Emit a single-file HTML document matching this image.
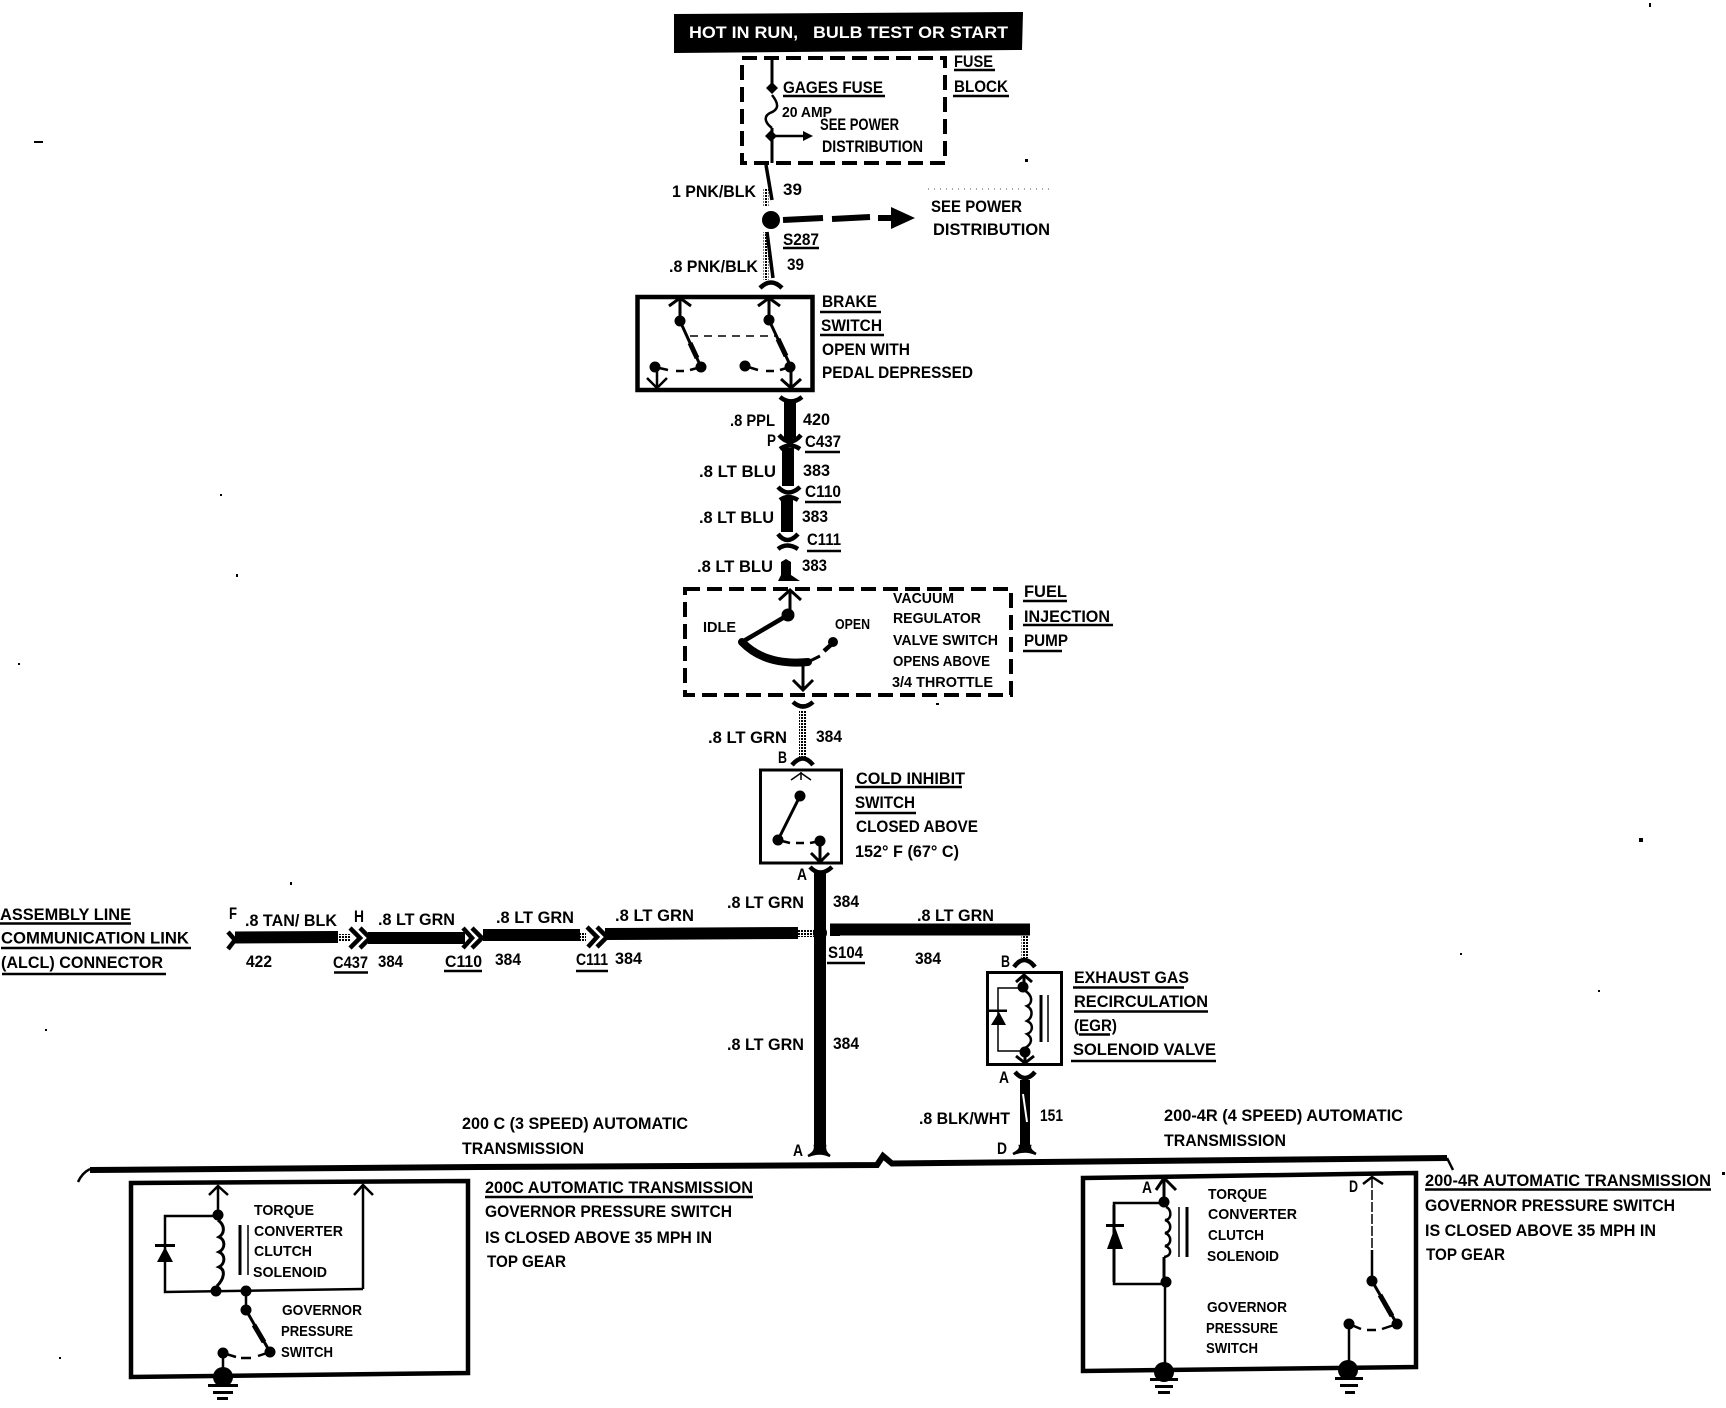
<!DOCTYPE html>
<html>
<head>
<meta charset="utf-8">
<style>
html,body{margin:0;padding:0;background:#fff}
svg{display:block}
text{font-family:"Liberation Sans",Arial,sans-serif;font-weight:bold;font-size:17px;fill:#000}
text.m{font-size:15px}
text.s{font-size:15px}
text.w{fill:#fff;font-size:17px}
.l{fill:none;stroke:#000;stroke-width:2.5}
.t{fill:none;stroke:#000;stroke-width:1.5}
.b{fill:none;stroke:#000;stroke-width:3}
.c{fill:none;stroke:#000;stroke-width:4.5}
.u{fill:none;stroke:#000;stroke-width:2.5}
.d{fill:none;stroke:#000;stroke-width:1.5;stroke-dasharray:8 6}
.dash{fill:none;stroke:#000;stroke-width:4;stroke-dasharray:15 7}
.w1{fill:none;stroke:#000;stroke-width:12}
.h{fill:none;stroke:#000;stroke-width:12}
.g{fill:none;stroke:url(#st);stroke-width:8}
</style>
</head>
<body>
<svg width="1726" height="1408" viewBox="0 0 1726 1408" xmlns="http://www.w3.org/2000/svg">
<defs>
<pattern id="st" width="3" height="3" patternUnits="userSpaceOnUse"><rect width="2" height="2" fill="#000"/></pattern>
</defs>
<rect width="1726" height="1408" fill="#fff"/>

<!-- specks -->
<g fill="#000">
<rect x="1649" y="3" width="2" height="4"/><rect x="34" y="141" width="9" height="2"/><rect x="1025" y="159" width="3" height="3"/>
<rect x="1639" y="838" width="4" height="4"/><rect x="290" y="882" width="2" height="3"/><rect x="936" y="703" width="3" height="2"/>
<rect x="220" y="494" width="2" height="2"/><rect x="236" y="574" width="2" height="3"/><rect x="45" y="1029" width="2" height="2"/>
<rect x="18" y="663" width="2" height="2"/><rect x="59" y="1357" width="2" height="2"/><rect x="1460" y="953" width="2" height="2"/>
<rect x="1598" y="990" width="2" height="2"/><rect x="1722" y="1172" width="3" height="3"/>
</g>
<path d="M928 189H1053" stroke="#888" stroke-width="1.5" stroke-dasharray="1 5" fill="none"/>

<!-- header -->
<path d="M674 14L1023 12L1022 50L674 53Z" fill="#000"/>
<text class="w" x="689" y="38" textLength="319" lengthAdjust="spacingAndGlyphs">HOT IN RUN,&#160;&#160;&#160;BULB TEST OR START</text>

<!-- fuse block -->
<rect x="742" y="58" width="203" height="105" class="dash"/>
<path class="b" d="M772 58V88"/>
<path class="l" d="M772 95C780 105 778 110 770 113C764 116 764 122 772 128"/>
<path class="b" d="M772 128V163"/>
<path d="M772 82l6 6-6 6-6-6zM771 130l6 6-6 6-6-6z"/>
<path class="l" d="M772 136H806"/><path d="M803 131L813 136L803 141Z"/>
<text x="954" y="67" textLength="39" lengthAdjust="spacingAndGlyphs">FUSE</text><path class="u" d="M954 70H995"/>
<text x="954" y="92" textLength="54" lengthAdjust="spacingAndGlyphs">BLOCK</text><path class="u" d="M953 96H1009"/>
<text x="783" y="93" textLength="100" lengthAdjust="spacingAndGlyphs">GAGES FUSE</text><path class="u" d="M783 96H885"/>
<text class="m" x="782" y="117" textLength="50" lengthAdjust="spacingAndGlyphs">20 AMP</text>
<text x="820" y="130" textLength="79" lengthAdjust="spacingAndGlyphs">SEE POWER</text>
<text x="822" y="152" textLength="101" lengthAdjust="spacingAndGlyphs">DISTRIBUTION</text>

<!-- wire 39 -->
<path d="M766 165L772 200" stroke="#000" stroke-width="3.5" fill="none"/>
<path class="g" d="M766 188V206" style="stroke-width:5"/>
<circle cx="771" cy="220" r="9"/>
<path d="M783 220L823 218M832 219L870 217M878 218H892" stroke="#000" stroke-width="6" fill="none"/>
<path d="M891 207L915 218L891 229Z"/>
<path d="M767 232L773 278" stroke="#000" stroke-width="3.5" fill="none"/>
<path class="g" d="M766 232V280" style="stroke-width:5"/>
<path class="c" d="M760 288Q771 277 782 288"/>
<text x="672" y="197" textLength="84" lengthAdjust="spacingAndGlyphs">1 PNK/BLK</text>
<text x="783" y="195" textLength="19" lengthAdjust="spacingAndGlyphs">39</text>
<text x="931" y="212" textLength="91" lengthAdjust="spacingAndGlyphs">SEE POWER</text>
<text x="933" y="235" textLength="117" lengthAdjust="spacingAndGlyphs">DISTRIBUTION</text>
<text x="783" y="245" textLength="36" lengthAdjust="spacingAndGlyphs">S287</text><path class="u" d="M783 248H819"/>
<text x="669" y="272" textLength="89" lengthAdjust="spacingAndGlyphs">.8 PNK/BLK</text>
<text x="787" y="270" textLength="17" lengthAdjust="spacingAndGlyphs">39</text>

<!-- brake switch -->
<rect x="637.5" y="297" width="175" height="93" class="c"/>
<path class="b" d="M680 299V320M669 306L680 298L691 306"/>
<path class="b" d="M769 299V320M758 306L769 298L780 306"/>
<circle cx="680" cy="321" r="5.5"/><circle cx="769" cy="320" r="5.5"/>
<path class="b" d="M680 321L701 367M769 320L791 367"/>
<path d="M690 343L697 358M778 339L786 356" stroke="#000" stroke-width="5" fill="none"/>
<circle cx="701" cy="367" r="5.5"/><circle cx="790" cy="367" r="5.5"/>
<circle cx="655" cy="367" r="5.5"/><circle cx="745" cy="366" r="5.5"/>
<path class="d" d="M690 336H777"/>
<path class="l" d="M655 367L668 370M676 371H684M690 370L701 367M745 366L758 370M766 371H774M780 370L790 367"/>
<path class="l" d="M657 371V388M647 378L657 388L667 378"/>
<path class="b" d="M791 371V388M781 379L791 388L801 379"/>
<text x="822" y="307" textLength="55" lengthAdjust="spacingAndGlyphs">BRAKE</text><path class="u" d="M820 312H881"/>
<text x="821" y="331" textLength="61" lengthAdjust="spacingAndGlyphs">SWITCH</text><path class="u" d="M820 335H884"/>
<text x="822" y="355" textLength="88" lengthAdjust="spacingAndGlyphs">OPEN WITH</text>
<text x="822" y="378" textLength="151" lengthAdjust="spacingAndGlyphs">PEDAL DEPRESSED</text>

<!-- vertical wires -->
<path class="c" d="M780 397Q791 406 802 397"/>
<path class="w1" d="M790 400V440"/>
<path class="c" d="M779 435Q790 448 801 435"/>
<path class="c" d="M780 449Q790 442 800 449"/>
<path class="w1" d="M788 448V486"/>
<path class="c" d="M778 487Q788 498 800 487"/>
<path class="c" d="M780 500Q788 494 798 500"/>
<path class="w1" d="M787 498V532"/>
<path class="c" d="M778 534Q787 546 798 534"/>
<path class="c" d="M778 549Q787 542 798 549"/>
<path d="M786 559L791 562V575L800 581H778L781 575V562Z"/>
<text x="730" y="426" textLength="45" lengthAdjust="spacingAndGlyphs">.8 PPL</text>
<text x="803" y="425" textLength="27" lengthAdjust="spacingAndGlyphs">420</text>
<text x="767" y="446" textLength="9" lengthAdjust="spacingAndGlyphs">P</text>
<text x="805" y="447" textLength="36" lengthAdjust="spacingAndGlyphs">C437</text><path class="u" d="M805 452H840"/>
<text x="699" y="477" textLength="77" lengthAdjust="spacingAndGlyphs">.8 LT BLU</text>
<text x="803" y="476" textLength="27" lengthAdjust="spacingAndGlyphs">383</text>
<text x="805" y="497" textLength="36" lengthAdjust="spacingAndGlyphs">C110</text><path class="u" d="M805 502H841"/>
<text x="699" y="523" textLength="75" lengthAdjust="spacingAndGlyphs">.8 LT BLU</text>
<text x="802" y="522" textLength="26" lengthAdjust="spacingAndGlyphs">383</text>
<text x="807" y="545" textLength="34" lengthAdjust="spacingAndGlyphs">C111</text><path class="u" d="M807 551H841"/>
<text x="697" y="572" textLength="76" lengthAdjust="spacingAndGlyphs">.8 LT BLU</text>
<text x="802" y="571" textLength="25" lengthAdjust="spacingAndGlyphs">383</text>

<!-- fuel injection pump -->
<rect x="685" y="589" width="326" height="106" class="dash"/>
<path class="b" d="M790 592V615M779 600L790 590L801 600"/>
<circle cx="788" cy="615" r="6.5"/>
<path class="c" d="M788 615L742 642"/>
<path d="M742 642Q765 666 808 662" fill="none" stroke="#000" stroke-width="8" stroke-linecap="round"/>
<path class="b" d="M808 662L820 656"/><path class="c" d="M824 651L833 643"/>
<circle cx="833" cy="642" r="5"/>
<path class="b" d="M803 664V689M793 680L803 690L813 680"/>
<path class="c" d="M793 702Q803 711 813 702"/>
<text class="m" x="703" y="632" textLength="33" lengthAdjust="spacingAndGlyphs">IDLE</text>
<text class="m" x="835" y="629" textLength="35" lengthAdjust="spacingAndGlyphs">OPEN</text>
<text class="m" x="893" y="603" textLength="61" lengthAdjust="spacingAndGlyphs">VACUUM</text>
<text class="m" x="893" y="623" textLength="88" lengthAdjust="spacingAndGlyphs">REGULATOR</text>
<text class="m" x="893" y="645" textLength="105" lengthAdjust="spacingAndGlyphs">VALVE SWITCH</text>
<text class="m" x="893" y="666" textLength="97" lengthAdjust="spacingAndGlyphs">OPENS ABOVE</text>
<text class="m" x="892" y="687" textLength="101" lengthAdjust="spacingAndGlyphs">3/4 THROTTLE</text>
<text x="1024" y="597" textLength="43" lengthAdjust="spacingAndGlyphs">FUEL</text><path class="u" d="M1023 601H1067"/>
<text x="1024" y="622" textLength="86" lengthAdjust="spacingAndGlyphs">INJECTION</text><path class="u" d="M1023 625H1113"/>
<text x="1024" y="646" textLength="44" lengthAdjust="spacingAndGlyphs">PUMP</text><path class="u" d="M1023 651H1062"/>

<!-- 384 to cold inhibit -->
<path class="g" d="M803 710V757"/>
<path class="c" d="M792 765Q803 752 813 765"/>
<text x="708" y="743" textLength="79" lengthAdjust="spacingAndGlyphs">.8 LT GRN</text>
<text x="816" y="742" textLength="26" lengthAdjust="spacingAndGlyphs">384</text>
<text x="778" y="763" textLength="9" lengthAdjust="spacingAndGlyphs">B</text>

<!-- cold inhibit -->
<rect x="760.5" y="770" width="81" height="93" class="b"/>
<path class="t" d="M801 772V780M791 780L801 773L811 780"/>
<circle cx="800" cy="796" r="5.5"/>
<path class="b" d="M800 796L778 840"/>
<circle cx="778" cy="840" r="5.5"/><circle cx="820" cy="841" r="5.5"/>
<path class="l" d="M778 840L790 843M796 843H804M810 843L820 841"/>
<path class="b" d="M820 845V862M811 853L820 862L829 853"/>
<text x="856" y="784" textLength="109" lengthAdjust="spacingAndGlyphs">COLD INHIBIT</text><path class="u" d="M855 787H962"/>
<text x="855" y="808" textLength="60" lengthAdjust="spacingAndGlyphs">SWITCH</text><path class="u" d="M855 813H916"/>
<text x="856" y="832" textLength="122" lengthAdjust="spacingAndGlyphs">CLOSED ABOVE</text>
<text x="855" y="857" textLength="104" lengthAdjust="spacingAndGlyphs">152° F (67° C)</text>
<text x="797" y="880" textLength="10" lengthAdjust="spacingAndGlyphs">A</text>

<!-- main vertical -->
<path d="M820 872V1152" stroke="#000" stroke-width="12" fill="none"/>
<path class="c" d="M810 867Q820 878 832 867"/>
<path d="M808 1156Q816 1152 815 1146H825Q824 1152 830 1156Q820 1151 808 1156Z" stroke="#000" stroke-width="2.5"/>
<text x="793" y="1156" textLength="10" lengthAdjust="spacingAndGlyphs">A</text>

<!-- ALCL wires -->
<path class="h" d="M235 937.5L338 937"/>
<path class="c" d="M228 932L235 940L228 949"/>
<path class="g" d="M338 938H350"/>
<path class="c" d="M350 928L360 938L350 948M360 928L370 938L360 948"/>
<path class="h" d="M368 938H465"/>
<path class="c" d="M463 928L472 938L463 948M472 928L482 938L472 948"/>
<path class="h" d="M483 935H580"/>
<path class="g" d="M578 937H586"/>
<path class="c" d="M587 927L597 937L588 947M597 927L607 937L597 947"/>
<path class="h" d="M605 934L798 933"/>
<path class="g" d="M798 933H814"/>
<circle cx="820" cy="933" r="7"/>
<path class="h" d="M836 929.5H1030"/>
<path d="M830 923.5H840V936H830Z" fill="#000"/>
<text x="0" y="920" textLength="131" lengthAdjust="spacingAndGlyphs">ASSEMBLY LINE</text><path class="u" d="M0 923.5H131"/>
<text x="1" y="943.5" textLength="188" lengthAdjust="spacingAndGlyphs">COMMUNICATION LINK</text><path class="u" d="M1 948H191"/>
<text x="1" y="968" textLength="162" lengthAdjust="spacingAndGlyphs">(ALCL) CONNECTOR</text><path class="u" d="M2 974H166"/>
<text x="229" y="919" textLength="8" lengthAdjust="spacingAndGlyphs">F</text>
<text x="245" y="926" textLength="92" lengthAdjust="spacingAndGlyphs">.8 TAN/ BLK</text>
<text x="354" y="922" textLength="10" lengthAdjust="spacingAndGlyphs">H</text>
<text x="378" y="925" textLength="77" lengthAdjust="spacingAndGlyphs">.8 LT GRN</text>
<text x="496" y="923" textLength="78" lengthAdjust="spacingAndGlyphs">.8 LT GRN</text>
<text x="615" y="921" textLength="79" lengthAdjust="spacingAndGlyphs">.8 LT GRN</text>
<text x="727" y="908" textLength="77" lengthAdjust="spacingAndGlyphs">.8 LT GRN</text>
<text x="833" y="907" textLength="26" lengthAdjust="spacingAndGlyphs">384</text>
<text x="246" y="967" textLength="26" lengthAdjust="spacingAndGlyphs">422</text>
<text x="333" y="968" textLength="35" lengthAdjust="spacingAndGlyphs">C437</text><path class="u" d="M334 972.5H368"/>
<text x="378" y="967" textLength="25" lengthAdjust="spacingAndGlyphs">384</text>
<text x="445" y="967" textLength="37" lengthAdjust="spacingAndGlyphs">C110</text><path class="u" d="M444 971H482"/>
<text x="495" y="965" textLength="26" lengthAdjust="spacingAndGlyphs">384</text>
<text x="576" y="965" textLength="32" lengthAdjust="spacingAndGlyphs">C111</text><path class="u" d="M576 971H608"/>
<text x="615" y="964" textLength="27" lengthAdjust="spacingAndGlyphs">384</text>
<text x="828" y="958" textLength="35" lengthAdjust="spacingAndGlyphs">S104</text><path class="u" d="M827 963H865"/>
<text x="917" y="921" textLength="77" lengthAdjust="spacingAndGlyphs">.8 LT GRN</text>
<text x="915" y="964" textLength="26" lengthAdjust="spacingAndGlyphs">384</text>
<text x="727" y="1050" textLength="77" lengthAdjust="spacingAndGlyphs">.8 LT GRN</text>
<text x="833" y="1049" textLength="26" lengthAdjust="spacingAndGlyphs">384</text>

<!-- EGR -->
<path class="g" d="M1025 936V958" style="stroke-width:7"/>
<path class="c" d="M1014 967Q1024 953 1035 967"/>
<text x="1001" y="967" textLength="9" lengthAdjust="spacingAndGlyphs">B</text>
<rect x="987.5" y="972.5" width="74" height="92" class="b"/>
<path class="b" d="M1024 976V985M1016 982L1024 975L1032 982"/>
<circle cx="1023" cy="987" r="5.5"/><circle cx="1025" cy="1052" r="5.5"/>
<path class="l" d="M1024 990C1034 996 1032 1004 1027 1006C1034 1010 1032 1018 1027 1021C1034 1024 1033 1032 1027 1034C1033 1038 1032 1044 1025 1048"/>
<path class="b" d="M1041 995V1042"/><path class="t" d="M1048 995V1042"/>
<path class="t" d="M1023 988H998V1051H1025"/>
<path d="M991 1025H1006L999 1012ZM989 1009.5H1007V1012H989Z"/>
<path class="b" d="M1025 1056V1063M1016 1056L1025 1063L1034 1056"/>
<text x="1074" y="983" textLength="115" lengthAdjust="spacingAndGlyphs">EXHAUST GAS</text><path class="u" d="M1073 987.5H1184"/>
<text x="1074" y="1007" textLength="134" lengthAdjust="spacingAndGlyphs">RECIRCULATION</text><path class="u" d="M1074 1011.5H1208"/>
<text x="1074" y="1031" textLength="43" lengthAdjust="spacingAndGlyphs">(EGR)</text><path class="u" d="M1079 1034.5H1110"/>
<text x="1073" y="1055" textLength="143" lengthAdjust="spacingAndGlyphs">SOLENOID VALVE</text><path class="u" d="M1071 1061H1216"/>
<text x="999" y="1083" textLength="10" lengthAdjust="spacingAndGlyphs">A</text>
<path class="c" d="M1015 1072Q1025 1084 1035 1072"/>
<path d="M1025 1080V1149" stroke="#000" stroke-width="10" fill="none"/>
<path d="M1023 1094L1027 1122" stroke="#fff" stroke-width="2" fill="none"/>
<path d="M1013 1154Q1021 1150 1020 1146H1030Q1029 1150 1036 1154Q1025 1149 1013 1154Z" stroke="#000" stroke-width="2.5"/>
<text x="919" y="1124" textLength="91" lengthAdjust="spacingAndGlyphs">.8 BLK/WHT</text>
<text x="1040" y="1121" textLength="23" lengthAdjust="spacingAndGlyphs">151</text>
<text x="997" y="1154" textLength="10" lengthAdjust="spacingAndGlyphs">D</text>

<!-- section titles -->
<text x="462" y="1129" textLength="226" lengthAdjust="spacingAndGlyphs">200 C (3 SPEED) AUTOMATIC</text>
<text x="462" y="1154" textLength="122" lengthAdjust="spacingAndGlyphs">TRANSMISSION</text>
<text x="1164" y="1121" textLength="239" lengthAdjust="spacingAndGlyphs">200-4R (4 SPEED) AUTOMATIC</text>
<text x="1164" y="1146" textLength="122" lengthAdjust="spacingAndGlyphs">TRANSMISSION</text>

<!-- bus -->
<path d="M90 1170L480 1167L877 1165L883 1156L892 1163.5L1447 1158" stroke="#000" stroke-width="6" fill="none"/>
<path class="l" d="M90 1169Q82 1173 78 1182M1447 1158L1453 1170"/>

<!-- 200C box -->
<path class="c" d="M131 1183L468 1181V1373L131 1377Z"/>
<path class="l" d="M218 1187V1215M209 1195L218 1186L228 1195"/>
<path class="l" d="M363 1186V1289M354 1195L363 1185L373 1195"/>
<circle cx="218" cy="1215" r="5.5"/><circle cx="216" cy="1291" r="5.5"/><circle cx="246" cy="1291" r="5.5"/>
<path class="l" d="M218 1216H165V1292L363 1289"/>
<path class="b" d="M218 1220C226 1226 224 1234 219 1237C226 1240 225 1249 219 1252C226 1255 225 1264 219 1267C226 1270 224 1279 217 1286"/>
<path class="b" d="M240 1225V1275"/><path class="t" d="M248 1225V1275"/>
<path d="M157 1262H173L165 1247ZM155 1244H175V1247H155Z"/>
<path class="l" d="M246 1291V1310"/><circle cx="246" cy="1310" r="5.5"/>
<path class="b" d="M246 1310L270 1352"/><path d="M254 1325L264 1342" stroke="#000" stroke-width="5" fill="none"/>
<circle cx="270" cy="1352" r="5.5"/>
<circle cx="223" cy="1353" r="5.5"/>
<path class="l" d="M223 1353L236 1357M241 1358H251M258 1356L270 1352"/>
<path class="l" d="M223 1353V1372"/>
<circle cx="223" cy="1377" r="10"/>
<path d="M208 1384H238V1387H208ZM213 1391H233V1394H213ZM217 1397H228V1400H217Z"/>
<text class="s" x="254" y="1215" textLength="60" lengthAdjust="spacingAndGlyphs">TORQUE</text>
<text class="s" x="254" y="1236" textLength="89" lengthAdjust="spacingAndGlyphs">CONVERTER</text>
<text class="s" x="254" y="1256" textLength="58" lengthAdjust="spacingAndGlyphs">CLUTCH</text>
<text class="s" x="253" y="1277" textLength="74" lengthAdjust="spacingAndGlyphs">SOLENOID</text>
<text class="s" x="282" y="1315" textLength="80" lengthAdjust="spacingAndGlyphs">GOVERNOR</text>
<text class="s" x="281" y="1336" textLength="72" lengthAdjust="spacingAndGlyphs">PRESSURE</text>
<text class="s" x="281" y="1357" textLength="52" lengthAdjust="spacingAndGlyphs">SWITCH</text>
<text x="485" y="1193" textLength="268" lengthAdjust="spacingAndGlyphs">200C AUTOMATIC TRANSMISSION</text><path class="u" d="M485 1197H753"/>
<text x="485" y="1217" textLength="247" lengthAdjust="spacingAndGlyphs">GOVERNOR PRESSURE SWITCH</text>
<text x="485" y="1243" textLength="227" lengthAdjust="spacingAndGlyphs">IS CLOSED ABOVE 35 MPH IN</text>
<text x="487" y="1267" textLength="79" lengthAdjust="spacingAndGlyphs">TOP GEAR</text>

<!-- 200-4R box -->
<path class="c" d="M1083 1178L1416 1173V1367L1083 1371Z"/>
<path class="b" d="M1164 1179V1202M1156 1190L1164 1178L1176 1190"/>
<circle cx="1164" cy="1202" r="5.5"/><circle cx="1166" cy="1282" r="5.5"/>
<path class="l" d="M1164 1203H1114V1284H1166"/>
<path class="b" d="M1114 1205V1282"/>
<path class="l" d="M1166 1207C1172 1209 1172 1220 1165 1220C1172 1222 1172 1232 1165 1233C1172 1235 1172 1245 1165 1246C1172 1248 1172 1256 1164 1257"/>
<path class="b" d="M1164 1257V1282"/>
<path class="l" d="M1165 1282V1366"/>
<path class="t" d="M1179 1207V1257"/><path class="b" d="M1187 1207V1257"/>
<path d="M1107 1249H1123L1115 1227ZM1106 1224H1124V1227H1106Z"/>
<path class="t" d="M1372 1178V1250" stroke-dasharray="10 2"/>
<path class="l" d="M1372 1250V1281"/>
<path class="l" d="M1363 1184L1372 1177L1383 1184"/>
<circle cx="1372" cy="1281" r="5.5"/>
<path class="b" d="M1372 1281L1397 1324"/><path d="M1380 1295L1392 1316" stroke="#000" stroke-width="5" fill="none"/>
<circle cx="1397" cy="1324" r="5.5"/>
<circle cx="1349" cy="1324" r="5.5"/>
<path class="l" d="M1349 1324L1361 1329M1367 1330H1376M1382 1329L1397 1324"/>
<path class="l" d="M1349 1326V1364"/>
<circle cx="1164" cy="1372" r="10"/><circle cx="1348" cy="1370" r="10"/>
<path d="M1150 1378H1178V1381H1150ZM1155 1385H1173V1388H1155ZM1158 1391H1170V1394H1158Z"/>
<path d="M1335 1377H1363V1380H1335ZM1340 1384H1358V1387H1340ZM1345 1391H1355V1394H1345Z"/>
<text x="1142" y="1193" textLength="10" lengthAdjust="spacingAndGlyphs">A</text>
<text x="1349" y="1192" textLength="9" lengthAdjust="spacingAndGlyphs">D</text>
<text class="s" x="1208" y="1199" textLength="59" lengthAdjust="spacingAndGlyphs">TORQUE</text>
<text class="s" x="1208" y="1219" textLength="89" lengthAdjust="spacingAndGlyphs">CONVERTER</text>
<text class="s" x="1208" y="1240" textLength="56" lengthAdjust="spacingAndGlyphs">CLUTCH</text>
<text class="s" x="1207" y="1261" textLength="72" lengthAdjust="spacingAndGlyphs">SOLENOID</text>
<text class="s" x="1207" y="1312" textLength="80" lengthAdjust="spacingAndGlyphs">GOVERNOR</text>
<text class="s" x="1206" y="1333" textLength="72" lengthAdjust="spacingAndGlyphs">PRESSURE</text>
<text class="s" x="1206" y="1353" textLength="52" lengthAdjust="spacingAndGlyphs">SWITCH</text>
<text x="1425" y="1186" textLength="286" lengthAdjust="spacingAndGlyphs">200-4R AUTOMATIC TRANSMISSION</text><path class="u" d="M1425 1189.5H1711"/>
<text x="1425" y="1211" textLength="250" lengthAdjust="spacingAndGlyphs">GOVERNOR PRESSURE SWITCH</text>
<text x="1425" y="1236" textLength="231" lengthAdjust="spacingAndGlyphs">IS CLOSED ABOVE 35 MPH IN</text>
<text x="1426" y="1260" textLength="79" lengthAdjust="spacingAndGlyphs">TOP GEAR</text>
</svg>
</body>
</html>
